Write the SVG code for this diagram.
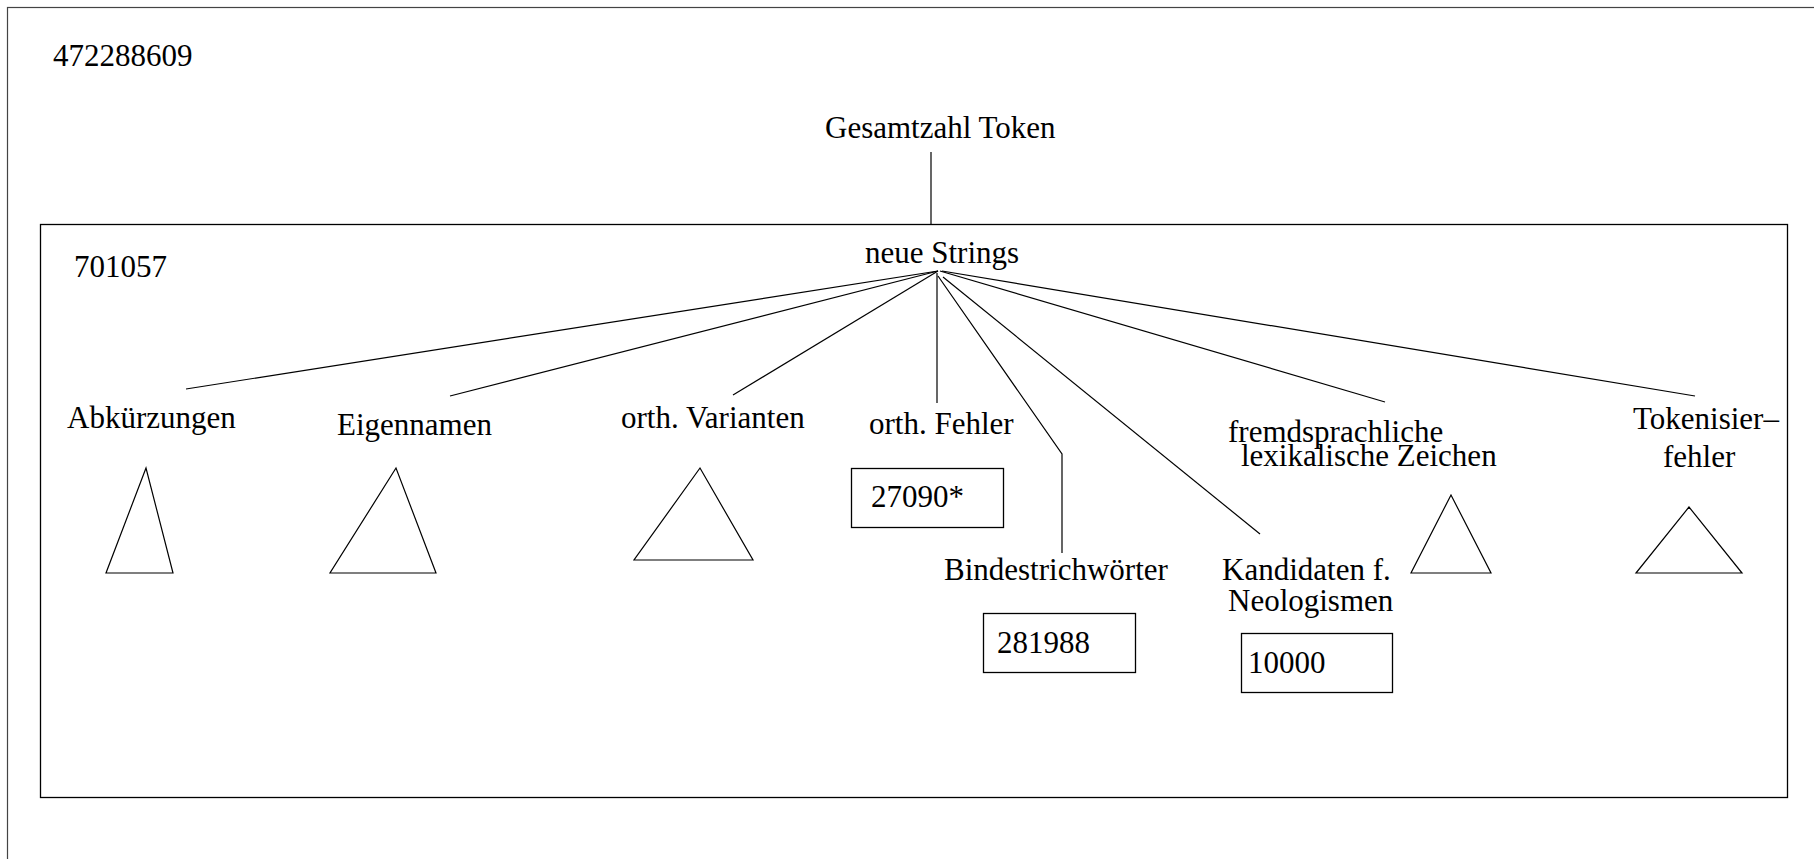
<svg xmlns="http://www.w3.org/2000/svg" width="1814" height="859" viewBox="0 0 1814 859">
<style>
text{font-family:"Liberation Serif","Times New Roman",serif;font-size:31px;fill:#000}
.ln{stroke:#000;stroke-width:1.2;fill:none}
.bx{stroke:#000;stroke-width:1.3;fill:#fff}
.tri{stroke:#000;stroke-width:1.2;fill:none;stroke-linejoin:miter}
</style>
<rect width="1814" height="859" fill="#fff"/>
<rect id="outer" x="7.5" y="7.5" width="1830" height="880" fill="none" stroke="#444" stroke-width="1.2"/>
<g id="total">
<text x="53" y="66">472288609</text>
<text x="825" y="138">Gesamtzahl Token</text>
</g>
<rect id="inner" x="40.5" y="224.5" width="1747" height="573" fill="none" stroke="#000" stroke-width="1.3"/>
<g id="connectors">
<line class="ln" x1="931" y1="152" x2="931" y2="224"/>
<line class="ln" x1="938" y1="271" x2="186" y2="389"/>
<line class="ln" x1="938" y1="271" x2="450" y2="396"/>
<line class="ln" x1="938" y1="271" x2="733" y2="395"/>
<line class="ln" x1="937" y1="273" x2="937" y2="403"/>
<polyline class="ln" points="938,276 1062,454 1062,553"/>
<line class="ln" x1="943" y1="277" x2="1260" y2="534"/>
<line class="ln" x1="940" y1="271" x2="1385" y2="402"/>
<line class="ln" x1="942" y1="271" x2="1695" y2="396"/>
</g>
<g id="neue-strings">
<text x="74" y="277">701057</text>
<text x="865" y="263">neue Strings</text>
</g>
<g id="abkuerzungen">
<text x="67" y="428">Abkürzungen</text>
<polygon class="tri" points="146,468 106,573 173,573"/>
</g>
<g id="eigennamen">
<text x="337" y="435">Eigennamen</text>
<polygon class="tri" points="396,468 330,573 436,573"/>
</g>
<g id="orth-varianten">
<text x="621" y="428">orth. Varianten</text>
<polygon class="tri" points="700,468 634,560 753,560"/>
</g>
<g id="orth-fehler">
<text x="869" y="434">orth. Fehler</text>
<rect class="bx" x="851.5" y="468.5" width="152" height="59"/>
<text x="871" y="507">27090*</text>
</g>
<g id="bindestrich">
<text x="944" y="580">Bindestrichwörter</text>
<rect class="bx" x="983.5" y="613.5" width="152" height="59"/>
<text x="997" y="653">281988</text>
</g>
<g id="kandidaten">
<text x="1222" y="580">Kandidaten f.</text>
<text x="1228" y="611">Neologismen</text>
<rect class="bx" x="1241.5" y="633.5" width="151" height="59"/>
<text x="1248" y="673">10000</text>
</g>
<g id="fremdsprachlich">
<text x="1228" y="442">fremdsprachliche</text>
<text x="1241" y="466">lexikalische Zeichen</text>
<polygon class="tri" points="1451,495 1411,573 1491,573"/>
</g>
<g id="tokenisier">
<text x="1633" y="429">Tokenisier–</text>
<text x="1663" y="467">fehler</text>
<polygon class="tri" points="1689,507 1636,573 1742,573"/>
</g>
</svg>
